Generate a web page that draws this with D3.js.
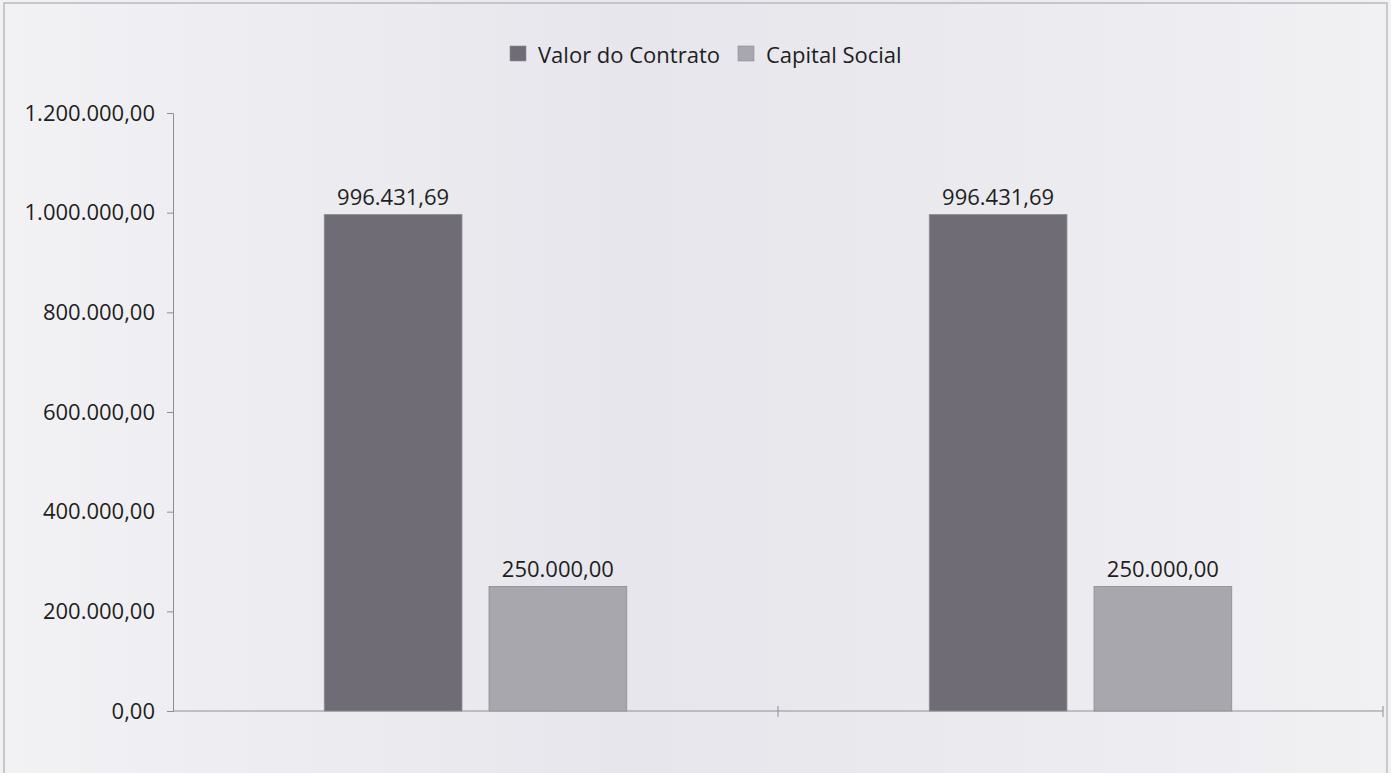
<!DOCTYPE html>
<html>
<head>
<meta charset="utf-8">
<script src="https://cdn.jsdelivr.net/npm/d3@7"></script>
<style>
  body { margin: 0; background: #f2f2f5; }
  text { font-family: "Open Sans", sans-serif; fill: #1e1e1e; }
</style>
</head>
<body>
<div id="chart"></div>
<script>
var categories = ["Contrato 1", "Contrato 2"];
var seriesNames = ["Valor do Contrato", "Capital Social"];
var valorContrato = [996431.69, 996431.69];
var capitalSocial = [250000, 250000];
var yTicks = [0, 200000, 400000, 600000, 800000, 1000000, 1200000];

var width = 1391,
    height = 773;

var colors = ["#6f6c76", "#a8a7ad"];

var fmt = function(v) {
  // pt-BR number format: 1.234.567,89
  var parts = v.toFixed(2).split(".");
  return parts[0].replace(/\B(?=(\d{3})+(?!\d))/g, ".") + "," + parts[1];
};

var svg = d3.select("#chart").append("svg")
    .attr("width", width)
    .attr("height", height);

// scanned-paper look
var grad = svg.append("defs").append("linearGradient")
    .attr("id", "paper");
grad.append("stop").attr("offset", "0%").attr("stop-color", "#f2f2f5");
grad.append("stop").attr("offset", "45%").attr("stop-color", "#e6e6ec");
grad.append("stop").attr("offset", "65%").attr("stop-color", "#e9e9ee");
grad.append("stop").attr("offset", "100%").attr("stop-color", "#f1f1f4");

svg.append("rect")
    .attr("width", width)
    .attr("height", height)
    .attr("fill", "url(#paper)");

svg.append("rect")
    .attr("x", 4).attr("y", 3)
    .attr("width", width - 8).attr("height", height + 10)
    .attr("fill", "none")
    .attr("stroke", "#b9b9c0")
    .attr("stroke-width", 1.5);

var plotLeft = 173, plotRight = 1383, plotTop = 113, plotBottom = 711;

var y = d3.scaleLinear()
    .domain([0, 1200000])
    .range([plotBottom, plotTop]);

var x0 = d3.scaleBand()
    .domain(categories)
    .range([plotLeft, plotRight])
    .paddingInner(0.5)
    .paddingOuter(0.25);

var x1 = d3.scaleBand()
    .domain(seriesNames)
    .range([0, x0.bandwidth()])
    .paddingInner(0.164);

// y axis
var yAxis = d3.axisLeft(y)
    .tickValues(yTicks)
    .tickSize(6)
    .tickPadding(12)
    .tickFormat(fmt);

var gy = svg.append("g")
    .attr("transform", "translate(" + plotLeft + ",0)")
    .call(yAxis);
gy.select(".domain").attr("stroke", "#8d8d94");
gy.selectAll(".tick line").attr("stroke", "#8d8d94");
gy.selectAll(".tick text").style("font-size", "22px").attr("fill", "#1e1e1e");

// x axis line with category boundary ticks
svg.append("line")
    .attr("x1", plotLeft).attr("x2", plotRight)
    .attr("y1", plotBottom).attr("y2", plotBottom)
    .attr("stroke", "#8d8d94");

var gap = x0.step() * x0.paddingInner();
var boundaries = categories.map(function(c) { return x0(c) + x0.bandwidth() + gap / 2; });
boundaries[boundaries.length - 1] = plotRight;
svg.selectAll(".xtick")
    .data(boundaries)
  .enter().append("line")
    .attr("class", "xtick")
    .attr("x1", function(d) { return d; })
    .attr("x2", function(d) { return d; })
    .attr("y1", plotBottom - 5)
    .attr("y2", plotBottom + 6)
    .attr("stroke", "#8d8d94");

// bars
var rows = categories.map(function(c, i) {
  return { cat: c, values: [valorContrato[i], capitalSocial[i]] };
});

var groups = svg.selectAll(".group")
    .data(rows)
  .enter().append("g")
    .attr("class", "group")
    .attr("transform", function(d) { return "translate(" + x0(d.cat) + ",0)"; });

var bars = groups.selectAll(".bar")
    .data(function(d) {
      return d.values.map(function(v, j) { return { name: seriesNames[j], value: v, j: j }; });
    })
  .enter();

bars.append("rect")
    .attr("class", "bar")
    .attr("x", function(d) { return x1(d.name); })
    .attr("y", function(d) { return y(d.value); })
    .attr("width", x1.bandwidth())
    .attr("height", function(d) { return plotBottom - y(d.value); })
    .attr("fill", function(d) { return colors[d.j]; })
    .attr("stroke", "#8e8d94")
    .attr("stroke-width", 0.8);

bars.append("text")
    .attr("x", function(d) { return x1(d.name) + x1.bandwidth() / 2; })
    .attr("y", function(d) { return y(d.value) - 9; })
    .attr("text-anchor", "middle")
    .style("font-size", "22px")
    .text(function(d) { return fmt(d.value); });

// legend
var legend = svg.append("g");
var lx = [510, 738];
seriesNames.forEach(function(name, i) {
  legend.append("rect")
      .attr("x", lx[i]).attr("y", 46)
      .attr("width", 16).attr("height", 15)
      .attr("fill", colors[i])
      .attr("stroke", "#8e8d94")
      .attr("stroke-width", 0.6);
  legend.append("text")
      .attr("x", lx[i] + 28)
      .attr("y", 63)
      .style("font-size", "22px")
      .text(name);
});
</script>
</body>
</html>
